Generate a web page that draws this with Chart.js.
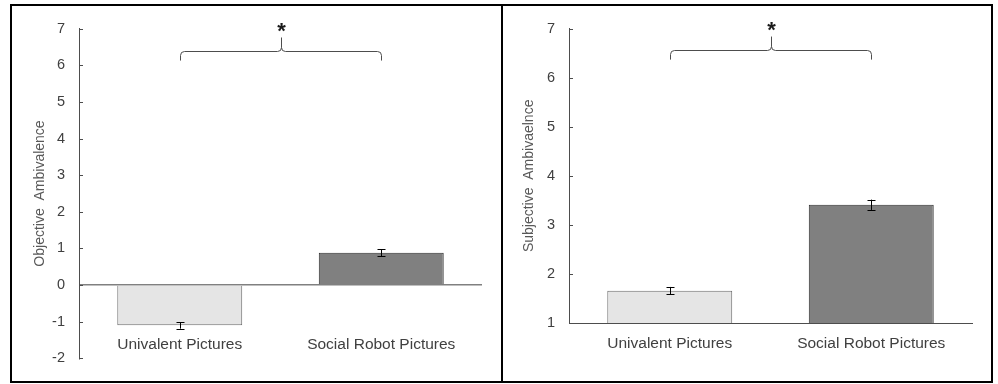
<!DOCTYPE html>
<html>
<head>
<meta charset="utf-8">
<script src="https://cdn.jsdelivr.net/npm/chart.js@4/dist/chart.umd.min.js"></script>
<style>
  html, body { margin: 0; padding: 0; background: #fff; }
  #frame { position: absolute; left: 10px; top: 4px; width: 983px; height: 379px; border: 2px solid #000; box-sizing: border-box; }
  #divider { position: absolute; left: 501px; top: 4px; width: 2px; height: 379px; background: #000; }
  canvas { position: absolute; }
  #objChart { left: 12px; top: 6px; }
  #subjChart { left: 503px; top: 6px; }
</style>
</head>
<body>
<div id="frame"></div>
<div id="divider"></div>
<canvas id="objChart" width="489" height="375"></canvas>
<canvas id="subjChart" width="488" height="375"></canvas>
<script>
// Picture conditions shown on the x axis
const categories = ['Univalent Pictures', 'Social Robot Pictures'];

// Objective ambivalence: means and standard errors
const objectiveMeans = [-1.10, 0.88];
const objectiveErrors = [0.09, 0.10];

// Subjective ambivalence: means and standard errors
const subjectiveMeans = [1.66, 3.41];
const subjectiveErrors = [0.075, 0.105];

// Axis ranges
const objectiveRange = [-2, 7];
const subjectiveRange = [1, 7];

// Significance bracket levels: [bar, ends, peak, star]
const objectiveBracket = [6.40, 6.13, 6.76, 7.03];
const subjectiveBracket = [6.57, 6.37, 6.84, 7.04];

const barFills = ['#e5e5e5', '#808080'];
const barBorders = ['#6a6a6a', '#2e2e2e'];
const FONT = '"Liberation Sans", Arial, sans-serif';

// Error bars, inward tick marks and the significance bracket
const extrasPlugin = {
  id: 'extras',
  afterDraw(chart, args, opts) {
    const ctx = chart.ctx;
    const xs = chart.scales.x, ys = chart.scales.y;
    ctx.save();
    // inward tick marks on the value axis
    ctx.strokeStyle = '#4d4d4d';
    ctx.lineWidth = 1;
    ys.ticks.forEach(t => {
      const py = Math.round(ys.getPixelForValue(t.value)) + 0.5;
      ctx.beginPath();
      ctx.moveTo(ys.right, py);
      ctx.lineTo(ys.right + 4, py);
      ctx.stroke();
    });
    // error bars
    const meta = chart.getDatasetMeta(0);
    const vals = chart.data.datasets[0].data;
    ctx.strokeStyle = '#000';
    meta.data.forEach((bar, i) => {
      const x = Math.round(bar.x) + 0.5;
      const yHi = ys.getPixelForValue(vals[i] + opts.errors[i]);
      const yLo = ys.getPixelForValue(vals[i] - opts.errors[i]);
      ctx.beginPath();
      ctx.moveTo(x, yHi); ctx.lineTo(x, yLo);
      ctx.moveTo(x - 4, Math.round(yHi) + 0.5); ctx.lineTo(x + 4, Math.round(yHi) + 0.5);
      ctx.moveTo(x - 4, Math.round(yLo) + 0.5); ctx.lineTo(x + 4, Math.round(yLo) + 0.5);
      ctx.stroke();
    });
    // bracket between the two conditions
    const [bLevel, bEnd, bPeak, bStar] = opts.bracket;
    const x0 = Math.round(xs.getPixelForValue(0)) + 0.5, x1 = Math.round(xs.getPixelForValue(1)) + 0.5;
    const xm = Math.round((x0 + x1) / 2) + 0.5;
    const yb = Math.round(ys.getPixelForValue(bLevel)) + 0.5;
    const ye = ys.getPixelForValue(bEnd);
    const yp = ys.getPixelForValue(bPeak);
    const r = 4;
    ctx.strokeStyle = '#4d4d4d';
    ctx.beginPath();
    ctx.moveTo(x0, ye);
    ctx.lineTo(x0, yb + r);
    ctx.quadraticCurveTo(x0, yb, x0 + r, yb);
    ctx.lineTo(xm - r, yb);
    ctx.quadraticCurveTo(xm, yb, xm, yb - r);
    ctx.lineTo(xm, yp);
    ctx.moveTo(xm, yb - r);
    ctx.quadraticCurveTo(xm, yb, xm + r, yb);
    ctx.lineTo(x1 - r, yb);
    ctx.quadraticCurveTo(x1, yb, x1, yb + r);
    ctx.lineTo(x1, ye);
    ctx.stroke();
    // significance star
    ctx.fillStyle = '#1a1a1a';
    ctx.font = 'bold 22px ' + FONT;
    ctx.textAlign = 'center';
    ctx.textBaseline = 'middle';
    ctx.fillText('*', xm, ys.getPixelForValue(bStar) + 4);
    ctx.restore();
  }
};

function makeChart(id, values, errors, range, bracket, title, layout, zeroLine) {
  return new Chart(document.getElementById(id), {
    type: 'bar',
    data: {
      labels: categories,
      datasets: [{
        data: values,
        backgroundColor: barFills,
        borderColor: barBorders,
        borderWidth: 1,
        barPercentage: 0.62,
        categoryPercentage: 1.0
      }]
    },
    options: {
      responsive: false,
      animation: false,
      devicePixelRatio: 1,
      layout: { padding: layout.padding },
      plugins: {
        legend: { display: false },
        tooltip: { enabled: false },
        extras: { errors: errors, bracket: bracket }
      },
      scales: {
        x: {
          position: layout.xPosition,
          grid: { display: false, drawTicks: false },
          border: { display: !zeroLine, color: '#4d4d4d', width: 1 },
          ticks: { color: '#404040', font: { family: FONT, size: 15.5 }, padding: layout.xPad, maxRotation: 0 },
          afterFit(scale) { scale.height = layout.xHeight; }
        },
        y: {
          min: range[0],
          max: range[1],
          ticks: { stepSize: 1, color: '#404040', font: { family: FONT, size: 14.5 }, padding: 14 },
          grid: {
            drawTicks: false,
            color: c => (zeroLine && c.tick && c.tick.value === 0) ? '#808080' : 'rgba(0,0,0,0)',
            lineWidth: 1.5
          },
          border: { display: true, color: '#4d4d4d', width: 1 },
          title: { display: true, text: title, color: '#595959', font: { family: FONT, size: 14 }, padding: { top: 4, bottom: 4 } },
          afterFit(scale) { scale.width = layout.yWidth; }
        }
      }
    },
    plugins: [extrasPlugin]
  });
}

makeChart('objChart', objectiveMeans, objectiveErrors, objectiveRange, objectiveBracket,
  'Objective  Ambivalence',
  { padding: { top: 20, right: 19, left: 16, bottom: 22 }, yWidth: 51, xHeight: 22, xPad: 6, xPosition: { y: -1.2 } },
  true);

makeChart('subjChart', subjectiveMeans, subjectiveErrors, subjectiveRange, subjectiveBracket,
  'Subjective  Ambivaelnce',
  { padding: { top: 21, right: 19, left: 14, bottom: 18 }, yWidth: 52, xHeight: 40, xPad: 11, xPosition: 'bottom' },
  false);
</script>
</body>
</html>
